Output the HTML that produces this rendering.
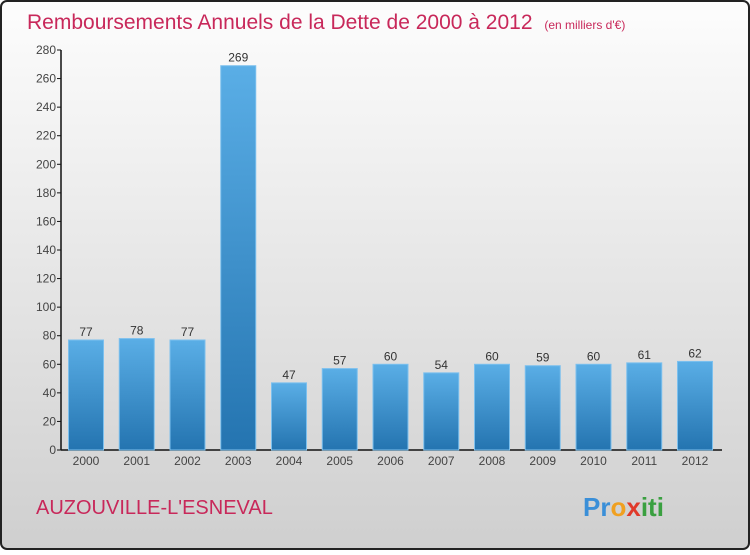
<!DOCTYPE html>
<html><head><meta charset="utf-8"><style>
html,body{margin:0;padding:0}
body{width:750px;height:550px;overflow:hidden;font-family:"Liberation Sans",sans-serif}
</style></head><body>
<svg width="750" height="550" xmlns="http://www.w3.org/2000/svg">
<defs>
<linearGradient id="bg" x1="0" y1="0" x2="0" y2="1"><stop offset="0" stop-color="#fdfdfd"/><stop offset="1" stop-color="#cfcfcf"/></linearGradient>
<linearGradient id="bar" x1="0" y1="0" x2="0" y2="1"><stop offset="0" stop-color="#5aaee6"/><stop offset="1" stop-color="#2474b0"/></linearGradient>
</defs>
<rect x="1" y="1" width="748" height="548" rx="6" fill="url(#bg)" stroke="#222" stroke-width="2"/>
<text x="27" y="29" font-size="21" fill="#c8285a">Remboursements Annuels de la Dette de 2000 à 2012 <tspan font-size="12" dx="6">(en milliers d'€)</tspan></text>
<g id="axes"></g>
<g id="bars"></g>
<text x="36" y="514" font-size="20" fill="#c8285a">AUZOUVILLE-L'ESNEVAL</text>
<text x="583" y="516" font-size="26" font-weight="bold"><tspan fill="#3a8fd8">Pr</tspan><tspan fill="#f0a020">o</tspan><tspan fill="#e03a2a">x</tspan><tspan fill="#3aa040">iti</tspan></text>
</svg>
<script>
const categories=["2000","2001","2002","2003","2004","2005","2006","2007","2008","2009","2010","2011","2012"];
const values=[77,78,77,269,47,57,60,54,60,59,60,61,62];
const yTicks=[0,20,40,60,80,100,120,140,160,180,200,220,240,260,280];
const NS="http://www.w3.org/2000/svg";
const y0=450,yTop=50,yMax=280,x0=61,step=50.75,first=86,bw=35;
const y=v=>y0-(v/yMax)*(y0-yTop);
const x=i=>first+i*step;
function mk(t,a,p){const e=document.createElementNS(NS,t);for(const k in a)e.setAttribute(k,a[k]);p.appendChild(e);return e;}
const ax=document.getElementById('axes'),bg=document.getElementById('bars');
const yl=mk('line',{x1:x0,y1:yTop,x2:x0,y2:y0,stroke:'#111','stroke-width':1.5},ax);


const xl=mk('line',{x1:x0,y1:y0,x2:722,y2:y0,stroke:'#111','stroke-width':1.5},ax);


yTicks.forEach(t=>{
 mk('line',{x1:x0-4,y1:y(t),x2:x0,y2:y(t),stroke:'#111'},ax);
 const tx=mk('text',{x:x0-5,y:y(t)+4,'font-size':12,'text-anchor':'end',fill:'#444'},ax);
 tx.textContent=t;
 
 
});
values.forEach((v,i)=>{
 const r=mk('rect',{x:x(i)-bw/2,y:y(v),width:bw,height:y0-y(v),fill:'url(#bar)',stroke:'#7cc0ee','stroke-width':1},bg);
 
 
 const l=mk('text',{x:x(i),y:y(v)-4,'font-size':12,'text-anchor':'middle',fill:'#333'},bg);
 l.textContent=v;
 
 
 const c=mk('text',{x:x(i),y:y0+15,'font-size':12,'text-anchor':'middle',fill:'#444'},bg);
 c.textContent=categories[i];
 
 
});
</script>
</body></html>
